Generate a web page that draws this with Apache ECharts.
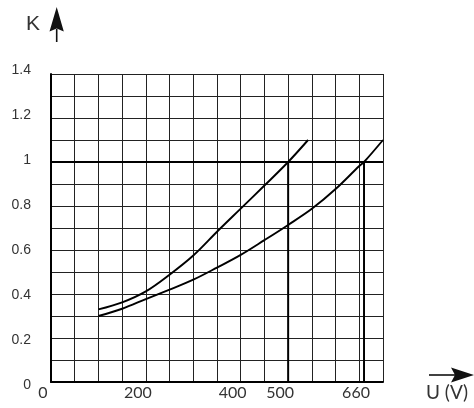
<!DOCTYPE html>
<html>
<head>
<meta charset="utf-8">
<script src="https://cdn.jsdelivr.net/npm/echarts@6/dist/echarts.min.js"></script>
<style>
html,body{margin:0;padding:0;background:#fff;}
#chart{width:474px;height:408px;}
</style>
</head>
<body>
<div id="chart"></div>
<script>
// Data
const upperU = [100, 150, 200, 250, 300, 350, 400, 450, 500, 542];
const upperK = [0.33, 0.362, 0.412, 0.488, 0.575, 0.683, 0.788, 0.893, 1.0, 1.1];
const lowerU = [100, 150, 200, 250, 300, 350, 400, 450, 500, 550, 600, 650, 660, 700];
const lowerK = [0.30, 0.333, 0.377, 0.42, 0.465, 0.52, 0.578, 0.645, 0.714, 0.787, 0.877, 0.982, 1.0, 1.1];
const dropU = [500, 660];
const refK = 1.0;
const xTickLabels = [0, 200, 400, 500, 660];
const yTickLabels = [0, 0.2, 0.4, 0.6, 0.8, 1, 1.2, 1.4];
const xMin = 0, xMax = 700, xGridStep = 50;
const yMin = 0, yMax = 1.4, yGridStep = 0.1;

const chart = echarts.init(document.getElementById('chart'));

const zip = (a, b) => a.map((v, i) => [v, b[i]]);

// per-label small vertical nudges (style only)
const rich = {};
yTickLabels.forEach((v, i) => {
  const d = 3.4 - 5.3 * v;
  const p = Math.round(Math.abs(d) * 2);
  rich['y' + i] = {
    fontFamily: 'Liberation Sans', fontSize: 14, color: '#333',
    padding: d >= 0 ? [p, 0, 0, 0] : [0, 0, p, 0]
  };
});

const lineStyleCurve = {color: '#000', width: 1.9};
const series = [
  {type: 'line', data: zip(upperU, upperK), smooth: 0.35, showSymbol: false, lineStyle: lineStyleCurve, silent: true},
  {type: 'line', data: zip(lowerU, lowerK), smooth: 0.35, showSymbol: false, lineStyle: lineStyleCurve, silent: true},
  {type: 'line', data: [[xMin, refK], [xMax, refK]], showSymbol: false, lineStyle: {color: '#000', width: 2}, silent: true}
];
dropU.forEach(u => {
  series.push({type: 'line', data: [[u, 0], [u, refK]], showSymbol: false, lineStyle: {color: '#000', width: 2}, silent: true});
});

chart.setOption({
  animation: false,
  backgroundColor: '#fff',
  grid: {left: 51, right: 91, top: 74, bottom: 26, containLabel: false},
  xAxis: [
    {
      type: 'value', min: xMin, max: xMax, interval: xGridStep,
      axisLine: {show: true, lineStyle: {color: '#000', width: 2}},
      axisTick: {show: false}, axisLabel: {show: false},
      splitLine: {show: true, lineStyle: {color: '#222', width: 1}}
    },
    {
      type: 'value', min: xMin, max: xMax, position: 'bottom',
      axisLine: {show: false}, axisTick: {show: false}, splitLine: {show: false},
      axisLabel: {
        show: true, customValues: xTickLabels, margin: 3,
        fontFamily: 'Lato', fontSize: 16, color: '#333',
        padding: [0, 16, 0, 0],
        formatter: v => String(v)
      }
    }
  ],
  yAxis: [
    {
      type: 'value', min: yMin, max: yMax, interval: yGridStep,
      axisLine: {show: true, lineStyle: {color: '#000', width: 2}},
      axisTick: {show: false},
      splitLine: {show: true, lineStyle: {color: '#222', width: 1}},
      axisLabel: {
        show: true, margin: 20,
        formatter: v => {
          const i = yTickLabels.findIndex(t => Math.abs(t - v) < 1e-6);
          if (i < 0) return '';
          return '{y' + i + '|' + String(yTickLabels[i]) + '}';
        },
        rich: rich
      }
    }
  ],
  graphic: [
    {type: 'text', left: 26, top: 14, style: {text: 'K', font: '21px "Liberation Sans"', fill: '#333'}},
    {type: 'polygon', shape: {points: [[56.7, 7], [49.5, 31.5], [56.7, 28.5], [63.8, 31.5]]}, style: {fill: '#111'}},
    {type: 'line', shape: {x1: 56.7, y1: 29, x2: 56.7, y2: 42}, style: {stroke: '#111', lineWidth: 1.6}},
    {type: 'line', shape: {x1: 429, y1: 375, x2: 456, y2: 375}, style: {stroke: '#111', lineWidth: 1.6}},
    {type: 'polygon', shape: {points: [[474, 375], [451, 367.5], [455, 375], [451, 382.5]]}, style: {fill: '#111'}},
    {type: 'text', left: 426, top: 383, style: {text: 'U (V)', font: '19px Lato', fill: '#333'}}
  ],
  series: series
});
</script>
</body>
</html>
